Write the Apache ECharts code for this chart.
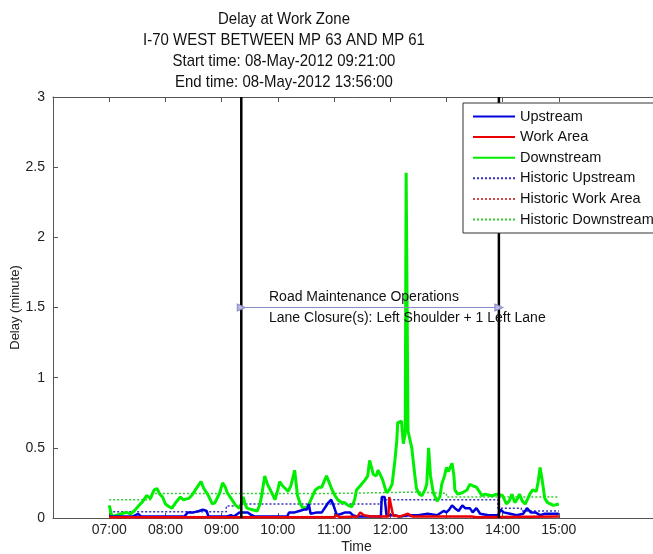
<!DOCTYPE html>
<html><head><meta charset="utf-8">
<script src="https://cdn.jsdelivr.net/npm/echarts@6/dist/echarts.min.js"></script>
<style>html,body{margin:0;padding:0;background:#fff}#c{width:653px;height:554px}</style>
</head><body><div id="c"></div>
<script>
const titleLines = ['Delay at Work Zone', 'I-70 WEST BETWEEN MP 63 AND MP 61', 'Start time: 08-May-2012 09:21:00', 'End time: 08-May-2012 13:56:00'];
const annotationLines = ['Road Maintenance Operations', 'Lane Closure(s): Left Shoulder + 1 Left Lane'];
const xTickValues = ['07:00','08:00','09:00','10:00','11:00','12:00','13:00','14:00','15:00'];
const xTickLabels = ['07:00','08:00','09:00','10:00','11:00','12:00','13:00','14:00','15:00'];
const xRange = ['06:00', '16:48'];
const workStart = '09:21';
const workEnd = '13:56';
const annotationLevel = 1.5;
const seriesNames = ['Upstream','Work Area','Downstream','Historic Upstream','Historic Work Area','Historic Downstream'];

const downTimes = ['07:00','07:03','07:08','07:13','07:18','07:23','07:28','07:32','07:36','07:40','07:44','07:48','07:51','07:54','07:57','08:00','08:04','08:07','08:11','08:16','08:19','08:21','08:25','08:28','08:31','08:34','08:38','08:41','08:45','08:48','08:50','08:53','08:55','08:58','09:01','09:04','09:06','09:09','09:12','09:15','09:19','09:21','09:23','09:25','09:27','09:32','09:38','09:41','09:43','09:46','09:49','09:52','09:55','09:57','10:00','10:02','10:05','10:08','10:11','10:14','10:18','10:21','10:24','10:27','10:32','10:36','10:40','10:44','10:47','10:50','10:52','10:55','10:58','11:01','11:04','11:08','11:11','11:15','11:19','11:22','11:24','11:28','11:33','11:36','11:38','11:42','11:45','11:47','11:50','11:52','11:56','11:59','12:02','12:05','12:07','12:08','12:12','12:14','12:16','12:17','12:18','12:19','12:23','12:26','12:28','12:31','12:34','12:37','12:39','12:41','12:43','12:46','12:50','12:53','12:55','12:58','13:00','13:02','13:04','13:06','13:08','13:09','13:12','13:14','13:17','13:19','13:22','13:25','13:28','13:32','13:35','13:38','13:41','13:43','13:47','13:50','13:53','13:55','14:00','14:02','14:04','14:07','14:10','14:13','14:16','14:18','14:21','14:24','14:27','14:29','14:32','14:36','14:38','14:40','14:42','14:45','14:48','14:51','14:54','14:56','15:00'];
const downVals = [0.09,0.01,0.02,0.03,0.04,0.03,0.06,0.09,0.12,0.16,0.14,0.20,0.21,0.17,0.15,0.10,0.08,0.07,0.11,0.15,0.13,0.12,0.14,0.16,0.19,0.22,0.26,0.21,0.17,0.13,0.10,0.11,0.12,0.18,0.25,0.22,0.18,0.15,0.12,0.09,0.07,0.10,0.15,0.10,0.07,0.06,0.05,0.10,0.17,0.30,0.24,0.20,0.16,0.13,0.20,0.26,0.23,0.21,0.19,0.23,0.34,0.16,0.10,0.07,0.08,0.14,0.20,0.22,0.22,0.27,0.30,0.25,0.20,0.16,0.13,0.11,0.11,0.09,0.08,0.13,0.20,0.23,0.27,0.30,0.41,0.31,0.30,0.34,0.30,0.27,0.18,0.20,0.24,0.41,0.55,0.68,0.69,0.53,0.60,2.46,2.46,0.62,0.50,0.32,0.21,0.17,0.16,0.20,0.24,0.50,0.30,0.18,0.12,0.15,0.24,0.30,0.36,0.33,0.36,0.39,0.30,0.20,0.17,0.16,0.18,0.17,0.20,0.24,0.23,0.22,0.19,0.16,0.17,0.18,0.16,0.16,0.17,0.17,0.16,0.13,0.10,0.12,0.17,0.11,0.14,0.17,0.12,0.10,0.14,0.17,0.20,0.19,0.26,0.36,0.28,0.14,0.11,0.10,0.09,0.08,0.10];

const upTimes = ['07:00','07:25','07:28','07:31','07:34','07:45','08:00','08:20','08:24','08:30','08:36','08:40','08:44','08:46','09:05','09:10','09:13','09:19','09:23','09:28','09:32','09:36','10:10','10:12','10:18','10:23','10:28','10:31','10:33','10:35','10:42','10:47','10:51','10:54','10:57','11:00','11:03','11:08','11:12','11:17','11:20','11:25','11:50','11:51','11:54','11:56','12:05','12:10','12:20','12:30','12:40','12:50','12:57','13:00','13:03','13:06','13:09','13:13','13:17','13:20','13:25','13:28','13:32','13:36','13:45','13:55','13:58','14:01','14:08','14:15','14:22','14:26','14:30','14:35','14:40','14:45','14:50','15:00'];
const upVals = [0.01,0.01,0.02,0.03,0.01,0.01,0.01,0.01,0.04,0.04,0.05,0.06,0.05,0.01,0.01,0.02,0.01,0.04,0.04,0.04,0.02,0.01,0.01,0.04,0.04,0.05,0.06,0.06,0.10,0.03,0.04,0.04,0.08,0.11,0.13,0.08,0.02,0.03,0.04,0.04,0.02,0.01,0.01,0.15,0.15,0.02,0.02,0.01,0.02,0.02,0.03,0.02,0.05,0.04,0.06,0.09,0.07,0.05,0.09,0.07,0.07,0.04,0.07,0.03,0.02,0.02,0.06,0.04,0.03,0.02,0.03,0.07,0.04,0.04,0.02,0.03,0.03,0.03];

const workTimes = ['07:00','11:00','11:03','11:06','11:25','11:28','11:32','11:40','11:58','11:59','12:01','12:03','12:10','12:19','12:21','12:24','12:30','13:00','13:02','13:05','13:27','13:29','13:32','15:00'];
const workVals = [0.005,0.005,0.02,0.005,0.01,0.04,0.02,0.01,0.01,0.15,0.15,0.02,0.01,0.03,0.03,0.01,0.01,0.01,0.02,0.01,0.01,0.02,0.005,0.01];

const histUpTimes = ['07:00','09:05','09:20','11:50','13:55','14:20','15:00'];
const histUpVals = [0.045,0.085,0.10,0.13,0.07,0.05,0.05];
const histWorkTimes = ['07:00','15:00'];
const histWorkVals = [0.01,0.01];
const histDownTimes = ['07:00','07:45','11:00','12:30','13:00','15:00'];
const histDownVals = [0.13,0.175,0.185,0.175,0.15,0.15];

function toH(s){const p=s.split(':').map(Number);return p[0]+p[1]/60;}
function pairs(ts, vs){return ts.map((t,i)=>[toH(t), vs[i]]);}

const chart = echarts.init(document.getElementById('c'), null, {renderer:'canvas'});
const FONT = '"Liberation Sans", Arial, sans-serif';
const xMin = toH(xRange[0]), xMax = toH(xRange[1]);
const tickH = xTickValues.map(toH);
const DOT = [2, 2];

const option = {
  animation: false,
  backgroundColor: '#fff',
  textStyle: {fontFamily: FONT},
  grid: {left: 53, right: -7, top: 97, bottom: 36, containLabel: false, outerBoundsMode: 'none'},
  legend: {
    data: seriesNames, orient: 'vertical', left: 463, top: 103,
    itemWidth: 42, itemHeight: 12, itemGap: 5.6,
    itemStyle: {opacity: 0, borderWidth: 0},
    padding: [6, 8, 6, 9], borderColor: '#333', borderWidth: 1, borderRadius: 0,
    backgroundColor: '#fff', z: 10,
    textStyle: {fontSize: 14.5, color: '#111', fontFamily: FONT}
  },
  xAxis: [{
    type: 'value', min: xMin, max: xMax, interval: 1,
    name: 'Time', nameLocation: 'middle', nameGap: 22, nameMoveOverlap: false,
    nameTextStyle: {fontSize: 14, color: '#222', fontFamily: FONT},
    axisLine: {show: true, onZero: false, lineStyle: {color: '#555', width: 1}},
    axisTick: {show: true, inside: true, length: 5, customValues: tickH, lineStyle: {color: '#555'}},
    axisLabel: {show: true, customValues: tickH, margin: 5, fontSize: 14, color: '#222', fontFamily: FONT,
      formatter: v => { const i = tickH.findIndex(t => Math.abs(t - v) < 1e-6); return i >= 0 ? xTickLabels[i] : ''; }},
    splitLine: {show: false}
  }, {
    type: 'value', position: 'top', min: xMin, max: xMax, interval: 1,
    axisLine: {show: true, onZero: false, lineStyle: {color: '#555', width: 1}},
    axisTick: {show: true, inside: true, length: 5, customValues: tickH, lineStyle: {color: '#555'}},
    axisLabel: {show: false}, splitLine: {show: false}
  }],
  yAxis: {
    type: 'value', min: 0, max: 3, interval: 0.5,
    name: 'Delay (minute)', nameLocation: 'middle', nameRotate: 90, nameGap: 31, nameMoveOverlap: false,
    nameTextStyle: {fontSize: 13, color: '#222', fontFamily: FONT},
    axisLine: {show: true, lineStyle: {color: '#555', width: 1}},
    axisTick: {show: true, inside: true, length: 5, lineStyle: {color: '#555'}},
    axisLabel: {fontSize: 14, color: '#222', margin: 8, fontFamily: FONT},
    splitLine: {show: false}
  },
  graphic: titleLines.map((t, i) => ({
    type: 'text', x: 284, y: 19 + i * 21, scaleX: 0.88, originX: 0,
    style: {text: t, fontSize: 17, fontFamily: FONT, fill: '#111', textAlign: 'center', textVerticalAlign: 'middle'}
  })).concat(annotationLines.map((t, i) => ({
    type: 'text', x: 269, y: 297 + i * 21, z: 20,
    style: {text: t, fontSize: 14, fontFamily: FONT, fill: '#111', textAlign: 'left', textVerticalAlign: 'middle'}
  }))),
  series: [
    {name: seriesNames[3], type: 'line', step: 'end', data: pairs(histUpTimes, histUpVals), symbol: 'none', z: 2,
      lineStyle: {color: '#3333bb', width: 1.5, type: DOT}, itemStyle: {color: '#3333bb'}},
    {name: seriesNames[4], type: 'line', step: 'end', data: pairs(histWorkTimes, histWorkVals), symbol: 'none', z: 2,
      lineStyle: {color: '#cc4444', width: 1.5, type: DOT}, itemStyle: {color: '#cc4444'}},
    {name: seriesNames[5], type: 'line', step: 'end', data: pairs(histDownTimes, histDownVals), symbol: 'none', z: 2,
      lineStyle: {color: '#33cc33', width: 1.5, type: DOT}, itemStyle: {color: '#33cc33'}},
    {name: seriesNames[2], type: 'line', data: pairs(downTimes, downVals), symbol: 'none', z: 3,
      lineStyle: {color: '#00ee00', width: 3}, itemStyle: {color: '#00ee00'}},
    {name: seriesNames[0], type: 'line', data: pairs(upTimes, upVals), symbol: 'none', z: 4,
      lineStyle: {color: '#0000dd', width: 2.5}, itemStyle: {color: '#0000dd'}},
    {name: seriesNames[1], type: 'line', data: pairs(workTimes, workVals), symbol: 'none', z: 4,
      lineStyle: {color: '#ee0000', width: 2.5}, itemStyle: {color: '#ee0000'}},
    {name: 'startLine', type: 'line', data: [[toH(workStart), 0], [toH(workStart), 3]], symbol: 'none', z: 6,
      lineStyle: {color: '#000', width: 2.5}},
    {name: 'endLine', type: 'line', data: [[toH(workEnd), 0], [toH(workEnd), 3]], symbol: 'none', z: 6,
      lineStyle: {color: '#000', width: 2.5}},
    {name: 'arrow', type: 'line', data: [[toH(workStart), annotationLevel], [toH(workEnd), annotationLevel]],
      symbol: 'triangle', symbolSize: [7, 8], symbolRotate: -90, showSymbol: true, z: 7,
      lineStyle: {color: '#8a8ac8', width: 1.2}, itemStyle: {color: '#b8b8e0', borderColor: '#8a8ac8', borderWidth: 1}}
  ]
};
chart.setOption(option);
</script></body></html>
